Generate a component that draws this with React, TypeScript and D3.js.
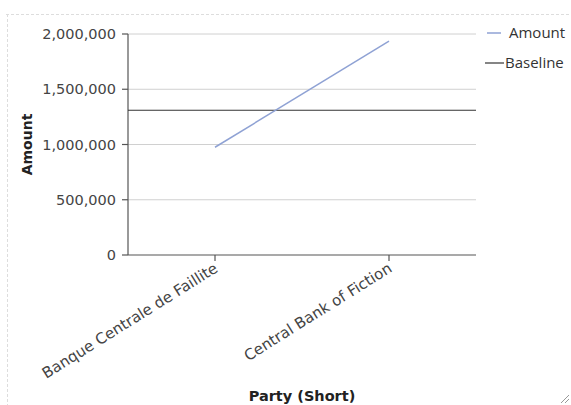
import React from "react";
import * as d3 from "d3";

const categories = ["Banque Centrale de Faillite", "Central Bank of Fiction"];
const amountValues = [975000, 1935000];
const baselineValue = 1310000;
const yTicks = [0, 500000, 1000000, 1500000, 2000000];
const legendLabels = ["Amount", "Baseline"];

const W = 571;
const H = 405;
const left = 128;
const right = 476;
const top = 34;
const bottom = 255;

export default function App() {
  const x = d3.scalePoint<string>().domain(categories).range([left, right]).padding(0.5);
  const y = d3.scaleLinear().domain([0, 2000000]).range([bottom, top]);
  const fmt = d3.format(",");
  const line = d3
    .line<number>()
    .x((_, i) => x(categories[i]) as number)
    .y((d) => y(d));
  const axisFont = "'DejaVu Sans', sans-serif";
  const legendFont = "'Open Sans', sans-serif";
  const colors = ["#8fa2d4", "#333333"];
  return (
    <svg
      width={W}
      height={H}
      style={{ position: "absolute", left: 0, top: 0, background: "#fff" }}
      fontFamily={axisFont}
    >
      <line x1={6} x2={571} y1={14.5} y2={14.5} stroke="#ddd" strokeDasharray="3,2" />
      <line x1={7.5} x2={7.5} y1={14} y2={405} stroke="#ddd" strokeDasharray="3,2" />
      {yTicks.map((t) => (
        <g key={t}>
          {t > 0 && (
            <line x1={left} x2={right} y1={y(t)} y2={y(t)} stroke="#d0d0d0" strokeWidth={1} />
          )}
          <line x1={left - 6} x2={left} y1={y(t)} y2={y(t)} stroke="#555" strokeWidth={1.2} />
          <text
            x={left - 12}
            y={y(t)}
            dy="0.35em"
            textAnchor="end"
            fontSize={14.5}
            fill="#444"
          >
            {fmt(t)}
          </text>
        </g>
      ))}
      <line x1={left} x2={left} y1={top} y2={bottom} stroke="#555" strokeWidth={1.2} />
      <line x1={left} x2={right} y1={bottom} y2={bottom} stroke="#555" strokeWidth={1.2} />
      {categories.map((c) => (
        <g key={c}>
          <line x1={x(c)} x2={x(c)} y1={bottom} y2={bottom + 6} stroke="#555" strokeWidth={1.2} />
          <text
            transform={`translate(${(x(c) as number) + 4},${bottom + 16}) rotate(-32)`}
            textAnchor="end"
            fontSize={15.1}
            fill="#444"
          >
            {c}
          </text>
        </g>
      ))}
      <line
        x1={left}
        x2={right}
        y1={y(baselineValue)}
        y2={y(baselineValue)}
        stroke={colors[1]}
        strokeWidth={1.2}
      />
      <path d={line(amountValues) || ""} fill="none" stroke={colors[0]} strokeWidth={1.5} />
      <text
        transform={`translate(32,${(top + bottom) / 2}) rotate(-90)`}
        textAnchor="middle"
        fontSize={14}
        fontWeight="bold"
        fill="#222"
      >
        Amount
      </text>
      <text x={(left + right) / 2} y={401} textAnchor="middle" fontSize={14.5} fontWeight="bold" fill="#222">
        Party (Short)
      </text>
      <g fontFamily={legendFont} fontSize={15} fill="#333">
        <line x1={487} x2={501} y1={33} y2={33} stroke={colors[0]} strokeWidth={1.5} />
        <text x={509} y={33} dy="0.35em">{legendLabels[0]}</text>
        <line x1={485} x2={504} y1={63} y2={63} stroke={colors[1]} strokeWidth={1.2} />
        <text x={505} y={63} dy="0.35em">{legendLabels[1]}</text>
      </g>
      <g stroke="#999" strokeWidth={1}>
        <line x1={561} y1={403} x2={569} y2={395} />
        <line x1={565} y1={403} x2={569} y2={399} />
      </g>
    </svg>
  );
}
